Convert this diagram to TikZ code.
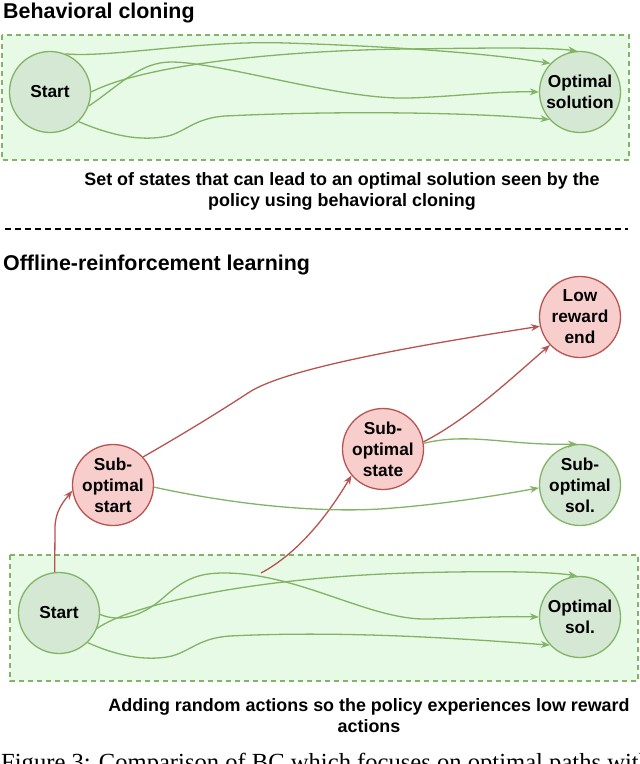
\documentclass[tikz,border=0pt]{standalone}
\usepackage{fontspec}
\setmainfont{Liberation Sans}
\newfontfamily\capfont{Liberation Serif}
\usetikzlibrary{arrows.meta}
\definecolor{gstroke}{HTML}{82B366}
\definecolor{gfill}{HTML}{D5E8D4}
\definecolor{rstroke}{HTML}{B85450}
\definecolor{rfill}{HTML}{F8CECC}
\definecolor{boxfill}{RGB}{231,250,229}
\tikzset{
  statenode/.style={circle, minimum size=81pt, inner sep=-8pt, line width=1.3pt, align=center,
    font=\bfseries\fontsize{17.3}{21}\selectfont},
  gstate/.style={statenode, draw=gstroke, fill=gfill},
  rstate/.style={statenode, draw=rstroke, fill=rfill},
  garrow/.style={draw=gstroke, line width=1.3pt, -{Stealth[length=9pt,width=7pt]}},
  rarrow/.style={draw=rstroke, line width=1.3pt, -{Stealth[length=9pt,width=7pt]}},
  region/.style={draw=gstroke, fill=boxfill, line width=1.3pt, dash pattern=on 5pt off 4pt},
  titletext/.style={inner sep=0pt, font=\bfseries\fontsize{21.4}{25}\selectfont},
  captext/.style={inner sep=0pt, align=center, font=\bfseries\fontsize{17.9}{21}\selectfont},
  figcap/.style={inner sep=0pt, font=\capfont\fontsize{24.6}{30}\selectfont},
  sepline/.style={draw=black, line width=1.2pt, dash pattern=on 6pt off 4pt}
}
\begin{document}
\begin{tikzpicture}[x=1pt,y=-1pt]
\clip (0,0) rectangle (640,764);
\fill[white] (0,0) rectangle (640,764);

% ---------- Behavioral cloning ----------
\node[titletext, anchor=base west] (t1) at (3,18.5) {Behavioral cloning};
\draw[region] (2,35) rectangle (629,160);
\node[gstate] (s1) at (50,92) {Start};
\node[gstate] (o1) at (580,92) {Optimal\\solution};

\draw[garrow] (s1.68) .. controls (110,58) and (200,40) .. (286,43)
  .. controls (380,46) and (480,52) .. (o1.136);
\draw[garrow] (s1.0) .. controls (150,62) and (300,50) .. (408,49)
  .. controls (480,48) and (545,47) .. (o1.94);
\draw[garrow] (s1.-20) .. controls (120,85) and (140,62) .. (171,62)
  .. controls (220,62) and (340,100) .. (408,98)
  .. controls (450,97) and (495,91) .. (o1.180);
\draw[garrow] (s1.-46) .. controls (110,135) and (140,142) .. (168,136)
  .. controls (185,132) and (195,118) .. (225,116)
  .. controls (350,110) and (480,113) .. (o1.-138);

\node[captext] (c1) at (342,191) {Set of states that can lead to an optimal solution seen by the\\policy using behavioral cloning};

\coordinate (sepL) at (5,229);
\coordinate (sepR) at (628,229);
\draw[sepline] (sepL) -- (sepR);

% ---------- Offline RL ----------
\node[titletext, anchor=base west] (t2) at (3,270) {Offline-reinforcement learning};
\draw[region] (10,555) rectangle (638,681);

\node[rstate] (lr) at (580,317) {Low\\reward\\end};
\node[rstate] (st) at (383,449) {Sub-\\optimal\\state};
\node[rstate] (ss) at (113,485) {Sub-\\optimal\\start};
\node[gstate] (so) at (580,485) {Sub-\\optimal\\sol.};
\node[gstate] (s2) at (59,613) {Start};
\node[gstate] (o2) at (580,617) {Optimal\\sol.};

\draw[garrow] (s2.-2) .. controls (118,622) and (140,618) .. (163,598)
  .. controls (185,578) and (200,573) .. (224,573)
  .. controls (300,573) and (370,621) .. (429,619)
  .. controls (470,618) and (505,616) .. (o2.180);
\draw[garrow] (s2.-22) .. controls (130,605) and (250,578) .. (408,573)
  .. controls (480,571) and (545,571) .. (o2.94);
\draw[garrow] (s2.-46) .. controls (115,655) and (145,662) .. (172,656)
  .. controls (192,650) and (200,638) .. (230,636)
  .. controls (350,630) and (480,640) .. (o2.-137);

\draw[rarrow] (s2.96) -- (55,528) .. controls (55,512) and (63,502) .. (ss.-172);
\coordinate (r2s) at (261,573);
\draw[rarrow] (r2s) .. controls (295,555) and (325,520) .. (st.-140);
\draw[rarrow] (ss.43) .. controls (190,430) and (222,410) .. (248,393)
  .. controls (285,368) and (420,345) .. (lr.-167);
\draw[rarrow] (st.10) .. controls (470,418) and (515,375) .. (lr.-137);
\draw[garrow] (st.8) .. controls (470,432) and (510,446) .. (so.94);
\draw[garrow] (ss.-3) .. controls (250,508) and (330,512) .. (380,509)
  .. controls (440,505) and (500,495) .. (so.-176);

\node[captext] (c2) at (369,716) {Adding random actions so the policy experiences low reward\\actions};

\node[figcap, anchor=base west] (fc) at (1,770) {Figure 3: Comparison of BC which focuses on optimal paths with};
\end{tikzpicture}
\end{document}
